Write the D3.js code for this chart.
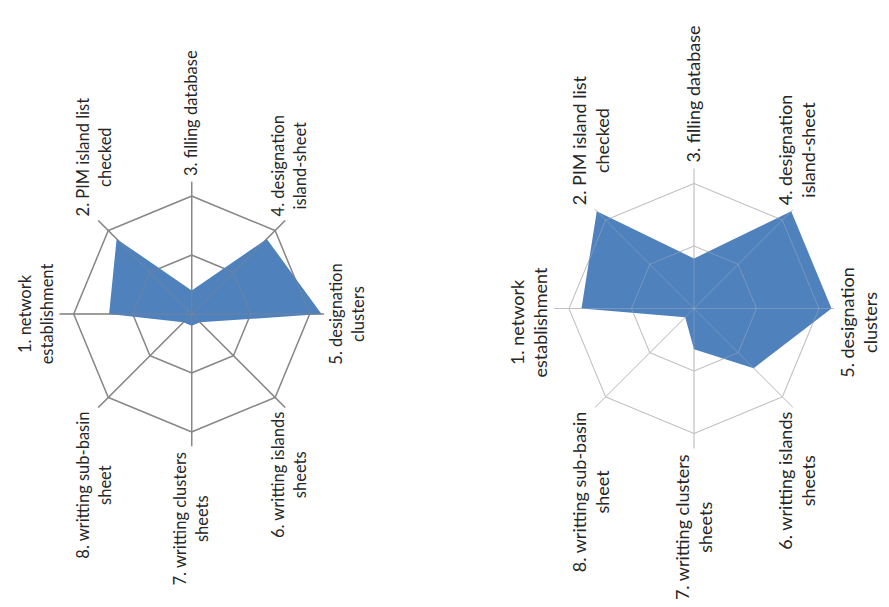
<!DOCTYPE html>
<html>
<head>
<meta charset="utf-8">
<script src="https://cdn.jsdelivr.net/npm/d3@7"></script>
<style>
 body { margin: 0; background: #fff; }
 svg { display: block; }
 text { font-family: Lato, "Open Sans", sans-serif; fill: #262626; }
</style>
</head>
<body>
<div id="chart"></div>
<script>
// axis labels (one entry per spoke, split into lines)
const axes = [
 ["1. network", "establishment"],
 ["2. PIM island list", "checked"],
 ["3. filling database"],
 ["4. designation", "island-sheet"],
 ["5. designation", "clusters"],
 ["6. writting islands", "sheets"],
 ["7. writting clusters", "sheets"],
 ["8. writting sub-basin", "sheet"]
];
const valuesLeft = [1.4, 1.8, 0.4, 1.8, 2.2, 0.2, 0.2, 0.2];
const valuesRight = [1.8, 2.2, 0.8, 2.2, 2.2, 1.35, 0.65, 0.2];
const ringTicks = [1, 2];

const width = 889, height = 607;

const svg = d3.select("#chart")
 .append("svg")
 .attr("width", width)
 .attr("height", height);

function radar(values, o) {
 const r = d3.scaleLinear().domain([0, 2]).range([0, o.R]);
 const ang = d3.scaleLinear().domain([0, axes.length]).range([0, 2 * Math.PI]);
 const pt = (i, v) => [r(v) * Math.sin(ang(i)), -r(v) * Math.cos(ang(i))];
 const loop = d3.line().curve(d3.curveLinearClosed);

 // the whole chart is drawn upright and then turned a quarter turn to the left
 const g = svg.append("g")
 .attr("transform", `translate(${o.cx},${o.cy}) rotate(-90)`);

 const grid = g.append("g")
 .attr("fill", "none")
 .attr("stroke", o.grid)
 .attr("stroke-width", o.sw);

 grid.selectAll("path")
 .data(ringTicks)
 .join("path")
 .attr("d", t => loop(axes.map((_, i) => pt(i, t))));

 grid.selectAll("line")
 .data(axes)
 .join("line")
 .attr("x2", (_, i) => pt(i, 2 * 1.12)[0])
 .attr("y2", (_, i) => pt(i, 2 * 1.12)[1]);

 g.append("path")
 .attr("d", loop(values.map((v, i) => pt(i, v))))
 .attr("fill", "#4f81bd");

 // grid faintly visible through the filled area
 grid.clone(true).raise().attr("stroke-opacity", 0.35);

 // labels, placed like Excel does: aligned away from the spoke end
 axes.forEach((lines, i) => {
 const a = ang(i), s = Math.sin(a), c = Math.cos(a);
 const rl = o.R + o.gap;
 const ax = rl * s, ay = -rl * c;
 const t = g.append("text")
 .attr("font-size", o.fs)
 .attr("text-anchor", "middle");
 const spans = lines.map(l => t.append("tspan").text(l));
 const w = d3.max(spans, sp => sp.node().getComputedTextLength());
 const n = lines.length;
 const bx = Math.abs(s) < 0.1 ? ax + o.shift : (s > 0 ? ax + w / 2 : ax - w / 2);
 let by;
 if (Math.abs(c) < 0.8) by = ay;
 else if (c > 0) by = ay - (n - 1) * o.lh / 2 - 0.4 * o.fs;
 else by = ay + (n - 1) * o.lh / 2 + 0.4 * o.fs;
 spans.forEach((sp, k) => sp
 .attr("x", bx)
 .attr("y", by + (k - (n - 1) / 2) * o.lh + 0.35 * o.fs));
 });
}

radar(valuesLeft, { cx: 191.7, cy: 314, R: 118, gap: 20, fs: 16.5, lh: 22, grid: "#878787", sw: 1.4, shift: 0 });
radar(valuesRight, { cx: 694, cy: 308.5, R: 125, gap: 21, fs: 18, lh: 23, grid: "#c0c0c0", sw: 1, shift: -14 });
</script>
</body>
</html>
